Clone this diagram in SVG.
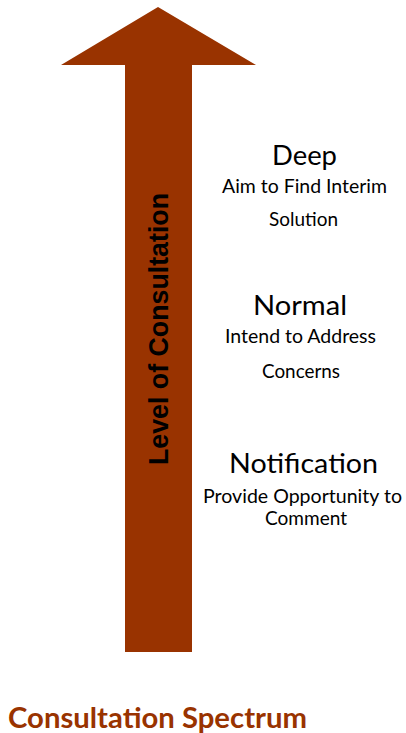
<svg xmlns="http://www.w3.org/2000/svg" width="406" height="733" viewBox="0 0 406 733">
<style>
.arrow{fill:#993300}
.axis{font-family:"Liberation Sans",Arial,sans-serif;font-weight:bold;font-size:27px;fill:#000;text-anchor:middle}
.head{font-family:Lato,"Open Sans",sans-serif;font-size:27px;fill:#000;text-anchor:middle}
.sub{font-family:Lato,"Open Sans",sans-serif;font-size:19px;fill:#000;text-anchor:middle}
.title{font-family:Lato,"Open Sans",sans-serif;font-weight:bold;font-size:29px;fill:#993300}
</style>
<rect width="406" height="733" fill="#fff"/>
<g id="arrow">
<polygon class="arrow" points="158,7 256,65 192,65 192,652 125,652 125,65 61,65"/>
<text class="axis" transform="translate(168,329) rotate(-90)" textLength="272" lengthAdjust="spacingAndGlyphs">Level of Consultation</text>
</g>
<g id="deep">
<text class="head" x="304.5" y="165" textLength="65" lengthAdjust="spacingAndGlyphs">Deep</text>
<text class="sub" x="304.5" y="193" textLength="165" lengthAdjust="spacingAndGlyphs">Aim to Find Interim</text>
<text class="sub" x="303.5" y="226" textLength="69" lengthAdjust="spacingAndGlyphs">Solution</text>
</g>
<g id="normal">
<text class="head" x="300" y="315" textLength="94" lengthAdjust="spacingAndGlyphs">Normal</text>
<text class="sub" x="300.5" y="343" textLength="151" lengthAdjust="spacingAndGlyphs">Intend to Address</text>
<text class="sub" x="301" y="378" textLength="78" lengthAdjust="spacingAndGlyphs">Concerns</text>
</g>
<g id="notification">
<text class="head" x="303.5" y="473" textLength="149" lengthAdjust="spacingAndGlyphs">Notification</text>
<text class="sub" x="302.5" y="503" textLength="199" lengthAdjust="spacingAndGlyphs">Provide Opportunity to</text>
<text class="sub" x="306" y="525" textLength="82" lengthAdjust="spacingAndGlyphs">Comment</text>
</g>
<g id="title">
<text class="title" x="8" y="728" textLength="299" lengthAdjust="spacingAndGlyphs">Consultation Spectrum</text>
</g>
<g id="connectors"/>
</svg>
